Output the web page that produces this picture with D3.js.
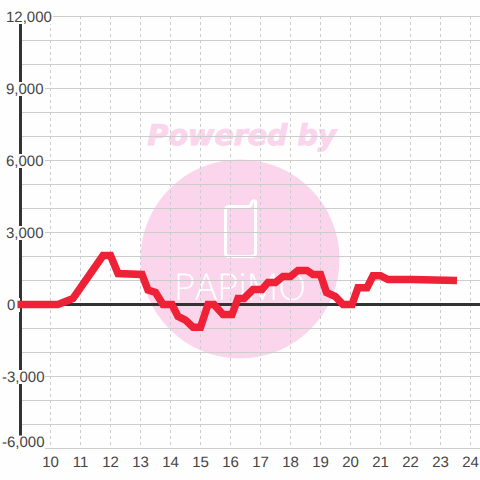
<!DOCTYPE html>
<html><head><meta charset="utf-8">
<script src="https://cdn.jsdelivr.net/npm/d3@7"></script>
<style>html,body{margin:0;padding:0;background:#fff}svg{display:block}text{text-rendering:geometricPrecision}</style></head>
<body><svg id="c" width="480" height="480"></svg>
<script>
const hourTicks = d3.range(10, 25);
const valueTicks = [12000, 9000, 6000, 3000, 0, -3000, -6000];
const gridValues = d3.range(-6000, 12001, 1000);
const hours = [8.9,10.25,10.75,11.75,12,12.25,13.05,13.25,13.5,13.75,14.05,14.25,14.5,14.75,15,15.25,15.45,15.75,16.05,16.25,16.45,16.75,17.05,17.25,17.5,17.75,18,18.25,18.55,18.75,19,19.2,19.5,19.75,20.05,20.25,20.55,20.75,21,21.25,22.05,23.55];
const values = [0,0,250,2040,2040,1290,1250,600,500,0,0,-500,-650,-950,-950,0,0,-420,-420,250,250,625,625,920,920,1170,1170,1420,1420,1250,1250,500,330,0,0,700,700,1200,1200,1040,1040,1000];
const watermark = "Powered by", logoText = "PAPiMO";

const svg = d3.select("#c");
const x = d3.scaleLinear().domain([10,24]).range([50.5,470.5]);
const y = d3.scaleLinear().domain([12000,-6000]).range([16.5,448.5]);
const fmt = d => d3.format(",")(d).replace("\u2212","-");

svg.append("rect").attr("width",480).attr("height",480).attr("fill","#fefefe");
// watermark
const pink="#fbd5ec";
svg.append("circle").attr("cx",240).attr("cy",259).attr("r",99.5).attr("fill",pink);
svg.append("text").text(watermark).attr("x",242).attr("y",145).attr("text-anchor","middle")
 .attr("font-family","DejaVu Sans").attr("font-weight","bold").attr("font-style","italic").attr("font-size",28.5)
 .attr("fill",pink).attr("stroke",pink).attr("stroke-width",1);
svg.append("path").attr("d","M230 206.5H249Q251 206.5 251.5 203Q253 199.5 255.5 201.5V253Q255.5 256.5 252 256.5H229Q225.5 256.5 225.5 253V210Q225.5 206.5 230 206.5Z")
 .attr("fill","none").attr("stroke","#fff").attr("stroke-width",3);
svg.append("text").text(logoText).attr("x",240).attr("y",300).attr("text-anchor","middle")
 .attr("textLength",132).attr("lengthAdjust","spacingAndGlyphs")
 .attr("font-family","Open Sans").attr("font-weight","300").attr("font-size",37).attr("fill","#fff");
// grid
svg.append("g").selectAll("line").data(gridValues).join("line")
 .attr("x1",20).attr("x2",480).attr("y1",d=>y(d)).attr("y2",d=>y(d)).attr("stroke","#ccc");
svg.append("g").selectAll("line").data(hourTicks).join("line")
 .attr("x1",d=>x(d)).attr("x2",d=>x(d)).attr("y1",16).attr("y2",448).attr("stroke","#ccc").attr("stroke-dasharray","3,3");
// axes
svg.append("line").attr("x1",20.5).attr("x2",20.5).attr("y1",16).attr("y2",448).attr("stroke","#333").attr("stroke-width",3);
svg.append("line").attr("x1",20).attr("x2",480).attr("y1",y(0)).attr("y2",y(0)).attr("stroke","#333").attr("stroke-width",3);
// y labels
const yl = svg.append("g").selectAll("g").data(valueTicks).join("g")
 .attr("transform",d=>`translate(0,${d===-6000?y(d)-6.5:y(d)})`);
yl.append("rect").attr("x",d=>d<0?1:(d===0?6:5)).attr("y",-6.5).attr("height",14)
 .attr("width",d=>(d===12000?48:d<0?44:d===0?14:40)).attr("fill","#fefefe");
yl.append("text").text(fmt).attr("x",d=>d<0?2:(d===0?7:6)).attr("y",5)
 .attr("font-family","Liberation Sans").attr("font-size",15).attr("fill","#444");
// x labels
svg.append("g").selectAll("text").data(hourTicks).join("text").text(d=>d)
 .attr("x",d=>x(d)).attr("y",466.5).attr("text-anchor","middle")
 .attr("font-family","Liberation Sans").attr("font-size",15).attr("fill","#444");
// series
const line = d3.line().x(d=>x(d[0])).y(d=>y(d[1]));
svg.append("path").attr("d",line(hours.map((h,i)=>[h,values[i]])))
 .attr("fill","none").attr("stroke","#ee2137").attr("stroke-width",7.5).attr("stroke-linejoin","miter");
</script></body></html>
